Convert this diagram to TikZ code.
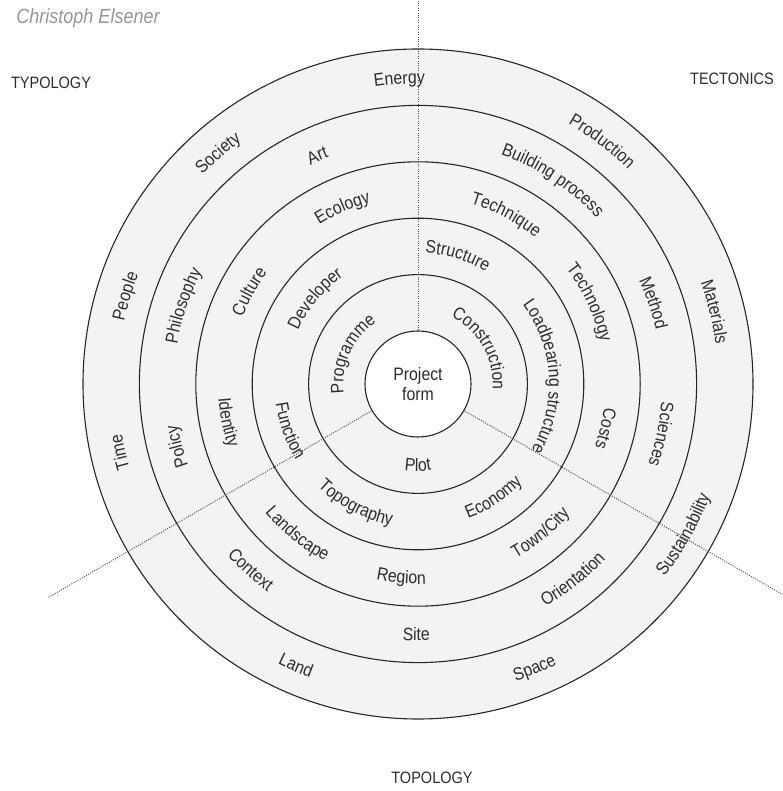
\documentclass[tikz,border=0pt]{standalone}
\usepackage{fontspec}
\setmainfont[FakeStretch=0.88]{Liberation Sans}
\usetikzlibrary{decorations.text}
\definecolor{ringFill}{RGB}{243,243,245}
\definecolor{inkGray}{RGB}{45,45,45}
\definecolor{nameGray}{RGB}{150,150,150}
\definecolor{axisGray}{RGB}{80,80,80}
\newcommand\ringfont{\fontsize{18}{20}\selectfont\color{inkGray}}

\begin{document}
\begin{tikzpicture}[
  x=1pt, y=1pt,
  ring/.style={draw=black!85, line width=1.1pt},
  axis/.style={draw=axisGray, line width=1pt, dash pattern=on 1pt off 1.4pt},
  head/.style={font=\fontsize{16.5}{18}\selectfont, text=inkGray},
  arclab/.style={
    decorate,
    decoration={text along path, text align=center,
      text/.expanded={|\noexpand\ringfont|#1}},
  },
]
  \useasboundingbox (-418,-407) rectangle (364,384);

  % rings
  \fill[ringFill] (0,0) circle[radius=335];
  \foreach \k in {1,...,5}
    \draw[ring] (0,0) circle[radius={53+56.4*\k}];

  \node[circle, ring, fill=white, minimum size=106pt, inner sep=0pt,
    align=center, font=\ringfont] (core) at (0,0) {Project\\form};

  % axes
  \coordinate (axTop) at (90:384);
  \coordinate (axLeft) at (210:427);
  \coordinate (axRight) at (330:420);
  \draw[axis] (core.90) -- (axTop);
  \draw[axis] (core.210) -- (axLeft);
  \draw[axis] (core.330) -- (axRight);

  % labels, tops outward
  \foreach \ang/\k/\txt in {
      93.5/5/Energy, 52.8/5/Production, 13.7/5/Materials,
      163.3/5/People, 130.9/5/Society, 192.9/5/Time,
      113.8/4/Art, 56.5/4/Building process, 19/4/Method,
      -11.7/4/Sciences, 194.6/4/Policy, 161.5/4/Philosophy,
      113.2/3/Ecology, 62.5/3/Technique, 25.4/3/Technology,
      -13.3/3/Costs, 151.3/3/Culture,
      72.8/2/Structure, 3.5/2/Loadbearing structure, 140.4/2/Developer,
      155.5/1/Programme, 29.7/1/Construction}{
    \pgfmathsetmacro\rb{53+56.4*(\k-0.5)-6.5}
    \path[arclab=\txt] ({\ang+80}:\rb)
      arc[start angle=\ang+80, end angle=\ang-80, radius=\rb];
  }

  % labels, tops inward
  \foreach \ang/\k/\txt in {
      -29.5/5/Sustainability, -67.7/5/Space, -113.4/5/Land,
      -51.6/4/Orientation, -90.4/4/Site, -132/4/Context,
      -50.6/3/{Town/City}, -94.9/3/Region, -128.8/3/Landscape,
      -168.6/3/Identity,
      -56.4/2/Economy, -117.5/2/Topography, -160.1/2/Function,
      -90/1/Plot}{
    \pgfmathsetmacro\rb{53+56.4*(\k-0.5)+6}
    \path[arclab=\txt] ({\ang-80}:\rb)
      arc[start angle=\ang-80, end angle=\ang+80, radius=\rb];
  }

  % headings
  \node[font=\fontsize{20.5}{22}\selectfont\itshape, text=nameGray]
    (author) at (-330,366) {Christoph Elsener};
  \node[head] (typo) at (-367,301) {TYPOLOGY};
  \node[head] (tect) at (314,305) {TECTONICS};
  \node[head] (topo) at (14,-394) {TOPOLOGY};

\end{tikzpicture}
\end{document}
